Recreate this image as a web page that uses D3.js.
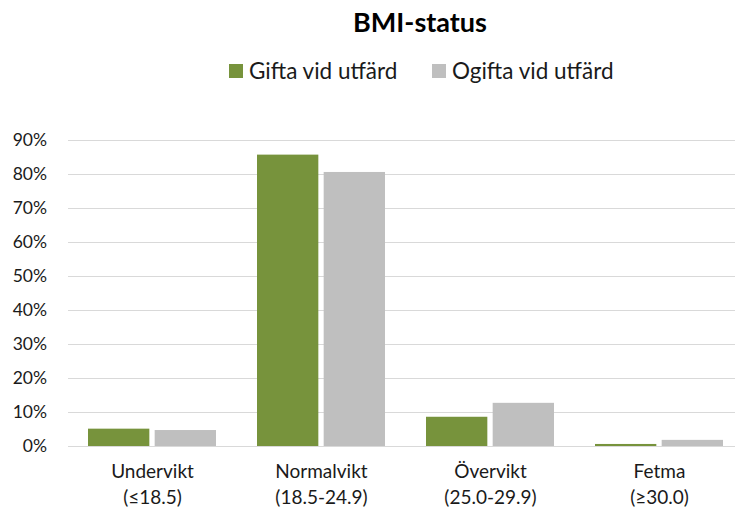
<!DOCTYPE html>
<meta charset="utf-8">
<style>
  body { margin: 0; padding: 0; background: white; }
  svg { background: white; font-family: Lato, "Open Sans", sans-serif; }
</style>
<script src="https://d3js.org/d3.v7.min.js"></script>
<svg id="vis"></svg>
<script>

var width = 735, height = 511;

// data
var categories = ["Undervikt\n(≤18.5)", "Normalvikt\n(18.5-24.9)", "Övervikt\n(25.0-29.9)", "Fetma\n(≥30.0)"];
var seriesNames = ["Gifta vid utfärd", "Ogifta vid utfärd"];
var gifta = [5.1, 85.7, 8.6, 0.6];
var ogifta = [4.7, 80.6, 12.7, 1.8];
var yTicks = [0, 10, 20, 30, 40, 50, 60, 70, 80, 90];
var colors = ["#77933C", "#BFBFBF"];

var svg = d3.select("svg").attr("width", width).attr("height", height);

var x = d3.scaleBand().domain(categories).range([68, 744]);
var y = d3.scaleLinear().domain([0, 90]).range([446, 140]);
var xs = d3.scaleBand().domain(seriesNames).range([20, x.bandwidth() - 21]).paddingInner(0.08);

// gridlines
svg.append("g")
  .selectAll("line")
  .data(yTicks)
  .enter().append("line")
    .attr("x1", 68).attr("x2", width)
    .attr("y1", d => y(d) + 0.5).attr("y2", d => y(d) + 0.5)
    .attr("stroke", "#D9D9D9").attr("stroke-width", 1);

// y labels
svg.append("g")
  .selectAll("text")
  .data(yTicks)
  .enter().append("text")
    .attr("x", 47).attr("y", d => y(d))
    .attr("dy", "0.35em")
    .attr("text-anchor", "end")
    .attr("font-size", 17.5)
    .attr("fill", "#1a1a1a")
    .text(d => d + "%");

// bars
var rows = categories.map((c, i) => ({cat: c, vals: [gifta[i], ogifta[i]]}));
var groups = svg.append("g")
  .selectAll("g")
  .data(rows)
  .enter().append("g")
    .attr("transform", d => "translate(" + x(d.cat) + ",0)");

groups.selectAll("rect")
  .data(d => d.vals.map((v, j) => ({name: seriesNames[j], v: v, j: j})))
  .enter().append("rect")
    .attr("x", d => xs(d.name))
    .attr("width", xs.bandwidth())
    .attr("y", d => y(d.v))
    .attr("height", d => y(0) - y(d.v))
    .attr("fill", d => colors[d.j]);

// x labels
var xl = svg.append("g")
  .selectAll("text")
  .data(categories)
  .enter().append("text")
    .attr("x", d => x(d) + x.bandwidth() / 2)
    .attr("y", 478)
    .attr("text-anchor", "middle")
    .attr("font-size", 19)
    .attr("fill", "#1a1a1a");
xl.selectAll("tspan")
  .data(d => d.split("\n"))
  .enter().append("tspan")
    .attr("x", function() { return d3.select(this.parentNode).attr("x"); })
    .attr("dy", (d, i) => i ? 26 : 0)
    .text(d => d);

// title
svg.append("text")
  .attr("x", 420).attr("y", 32)
  .attr("text-anchor", "middle")
  .attr("font-size", 27)
  .attr("font-weight", "bold")
  .attr("fill", "#000")
  .text("BMI-status");

// legend
var legX = [229, 432];
var leg = svg.append("g")
  .selectAll("g")
  .data(seriesNames)
  .enter().append("g")
    .attr("transform", (d, i) => "translate(" + legX[i] + ",64)");
leg.append("rect")
  .attr("width", 14).attr("height", 14)
  .attr("fill", (d, i) => colors[i]);
leg.append("text")
  .attr("x", 20).attr("y", 7)
  .attr("dy", "0.35em")
  .attr("font-size", 22.5)
  .attr("fill", "#1a1a1a")
  .text(d => d);

</script>
